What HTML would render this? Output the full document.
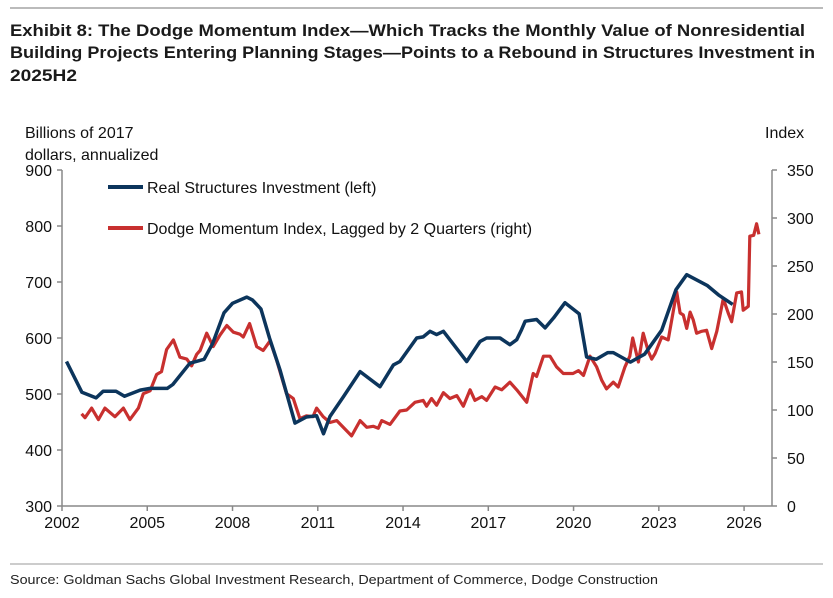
<!DOCTYPE html>
<html><head><meta charset="utf-8"><style>
html,body{margin:0;padding:0;background:#fff;}
svg{display:block;font-family:"Liberation Sans",sans-serif;}
</style></head><body>
<svg id="chart" width="833" height="598" viewBox="0 0 833 598" xmlns="http://www.w3.org/2000/svg">
<line x1="10" y1="8" x2="823" y2="8" stroke="#777" stroke-width="1"/>
<g font-weight="bold" font-size="17" fill="#1a1a1a">
<text x="10" y="36" textLength="795" lengthAdjust="spacingAndGlyphs">Exhibit 8: The Dodge Momentum Index—Which Tracks the Monthly Value of Nonresidential</text>
<text x="10" y="58" textLength="805" lengthAdjust="spacingAndGlyphs">Building Projects Entering Planning Stages—Points to a Rebound in Structures Investment in</text>
<text x="10" y="81" textLength="67" lengthAdjust="spacingAndGlyphs">2025H2</text>
</g>
<g font-size="16" fill="#111">
<text x="25" y="138">Billions of 2017</text>
<text x="25" y="160">dollars, annualized</text>
</g>
<text x="765" y="138" font-size="16" fill="#111">Index</text>
<g id="axes"></g>
<g id="series"></g>
<g font-size="16" fill="#111">
<line x1="108" y1="187" x2="143" y2="187" stroke="#0c355c" stroke-width="4"/>
<text x="147" y="193">Real Structures Investment (left)</text>
<line x1="108" y1="228" x2="143" y2="228" stroke="#c8302f" stroke-width="4"/>
<text x="147" y="234">Dodge Momentum Index, Lagged by 2 Quarters (right)</text>
</g>
<line x1="10" y1="564" x2="823" y2="564" stroke="#999" stroke-width="1"/>
<text x="10" y="584" font-size="13" fill="#222" textLength="648" lengthAdjust="spacingAndGlyphs">Source: Goldman Sachs Global Investment Research, Department of Commerce, Dodge Construction</text>
</svg>
<script>
const xTickYears = [2002,2005,2008,2011,2014,2017,2020,2023,2026];
const leftTicks = [300,400,500,600,700,800,900];
const rightTicks = [0,50,100,150,200,250,300,350];
const blueYears = [2002.16,2002.7,2003.2,2003.45,2003.9,2004.2,2004.75,2005.1,2005.7,2005.9,2006.5,2007.0,2007.3,2007.7,2008.0,2008.5,2008.7,2009.0,2009.3,2009.67,2010.2,2010.6,2010.96,2011.2,2011.43,2011.9,2012.49,2013.19,2013.66,2013.89,2014.48,2014.71,2014.95,2015.18,2015.42,2016.24,2016.71,2016.94,2017.41,2017.76,2018.0,2018.17,2018.3,2018.7,2019.0,2019.3,2019.7,2020.2,2020.46,2020.8,2021.2,2021.4,2022.0,2022.5,2023.1,2023.6,2023.98,2024.7,2025.1,2025.6];
const blueValues = [558,503,493,505,505,496,507,510,510,517,555,562,590,645,662,673,668,652,600,543,448,459,461,429,460,495,540,513,552,558,600,602,612,606,612,558,594,600,600,588,597,615,630,633,618,636,663,643,566,562,574,574,557,571,614,686,713,694,677,660];
const redYears = [2002.69,2002.81,2003.04,2003.28,2003.51,2003.86,2004.16,2004.39,2004.69,2004.86,2005.1,2005.33,2005.5,2005.68,2005.92,2006.15,2006.39,2006.56,2006.74,2006.86,2007.09,2007.32,2007.56,2007.8,2008.03,2008.26,2008.38,2008.6,2008.85,2009.08,2009.32,2009.55,2009.9,2010.14,2010.37,2010.6,2010.83,2010.96,2011.19,2011.43,2011.67,2012.19,2012.49,2012.72,2012.95,2013.13,2013.25,2013.54,2013.89,2014.13,2014.42,2014.71,2014.83,2015.0,2015.18,2015.42,2015.65,2015.89,2016.12,2016.36,2016.53,2016.77,2016.94,2017.24,2017.47,2017.76,2018.0,2018.35,2018.58,2018.7,2018.94,2019.17,2019.4,2019.64,2019.98,2020.17,2020.35,2020.58,2020.81,2020.99,2021.16,2021.4,2021.57,2021.81,2021.98,2022.08,2022.28,2022.45,2022.63,2022.75,2022.87,2023.1,2023.33,2023.63,2023.75,2023.86,2023.98,2024.1,2024.21,2024.33,2024.51,2024.68,2024.86,2025.04,2025.27,2025.44,2025.56,2025.74,2025.91,2025.97,2026.15,2026.2,2026.34,2026.44,2026.52];
const redValues = [96,92,102,90,102,93,102,90,102,117,120,137,140,163,173,155,153,146,158,162,180,166,178,188,181,179,176,190,166,162,172,152,117,112,91,94,93,102,93,87,89,73,89,82,83,81,89,85,99,100,108,110,104,112,105,118,112,115,104,121,110,114,110,124,121,129,121,108,138,135,156,156,145,138,138,141,136,156,145,131,122,129,124,145,156,175,150,180,161,153,159,176,173,223,201,199,185,202,194,180,182,183,164,182,216,201,192,222,223,204,208,281,282,294,283];

const NS = "http://www.w3.org/2000/svg";
const X0 = 62, X1 = 772, Y0 = 506, Y1 = 170;
function xs(yr){ return 62 + (yr - 2002) * 28.42; }
function yl(v){ return Y0 - (v - 300) / 600 * (Y0 - Y1); }
function yr(v){ return Y0 - v / 350 * (Y0 - Y1); }
function mk(tag, attrs, parent){ const e = document.createElementNS(NS, tag); for (const k in attrs) e.setAttribute(k, attrs[k]); parent.appendChild(e); return e; }

const axes = document.getElementById('axes');
const ax = "#888";
let e;
e = mk('line', {x1:X0,y1:Y1,x2:X0,y2:Y0,stroke:ax,'stroke-width':1.5}, axes);


e = mk('line', {x1:X1,y1:Y1,x2:X1,y2:Y0,stroke:ax,'stroke-width':1.5}, axes);


e = mk('line', {x1:X0,y1:Y0,x2:X1,y2:Y0,stroke:ax,'stroke-width':1.5}, axes);


leftTicks.forEach(v => {
  const y = yl(v);
  const t = mk('line', {x1:X0-5,y1:y,x2:X0,y2:y,stroke:ax,'stroke-width':1.5}, axes);
  
  
  const l = mk('text', {x:X0-10,y:y+6,'text-anchor':'end','font-size':16,fill:'#111'}, axes);
  l.textContent = v;
  
  
});
rightTicks.forEach(v => {
  const y = yr(v);
  const t = mk('line', {x1:X1,y1:y,x2:X1+5,y2:y,stroke:ax,'stroke-width':1.5}, axes);
  
  
  const l = mk('text', {x:X1+15,y:y+6,'font-size':16,fill:'#111'}, axes);
  l.textContent = v;
  
  
});
xTickYears.forEach(v => {
  const x = xs(v);
  const t = mk('line', {x1:x,y1:Y0,x2:x,y2:Y0+5,stroke:ax,'stroke-width':1.5}, axes);
  
  
  const l = mk('text', {x:x,y:Y0+22,'text-anchor':'middle','font-size':16,fill:'#111'}, axes);
  l.textContent = v;
  
  
});

const series = document.getElementById('series');
const bluePts = blueYears.map((t,i) => xs(t).toFixed(1) + ',' + yl(blueValues[i]).toFixed(1)).join(' ');
const redPts = redYears.map((t,i) => xs(t).toFixed(1) + ',' + yr(redValues[i]).toFixed(1)).join(' ');
const rl = mk('polyline', {points:redPts,fill:'none',stroke:'#c8302f','stroke-width':3.2,'stroke-linejoin':'round'}, series);


const bl = mk('polyline', {points:bluePts,fill:'none',stroke:'#0c355c','stroke-width':3.5,'stroke-linejoin':'round'}, series);


</script>
</body></html>
